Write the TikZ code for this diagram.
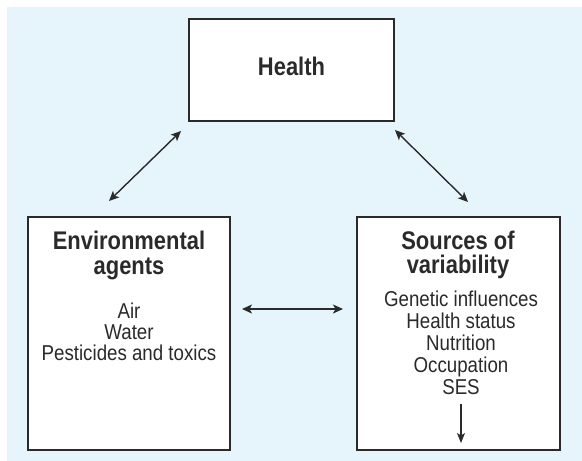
\documentclass[tikz,border=0pt]{standalone}
\usepackage{fontspec}
\setmainfont{Liberation Sans}
\newfontfamily\headfont{Liberation Sans}[FakeStretch=0.86]
\newfontfamily\bodyfont{Liberation Sans}[FakeStretch=0.87]
\usetikzlibrary{arrows.meta}
\definecolor{bgblue}{HTML}{E6F5FC}
\definecolor{ink}{HTML}{2A2A2A}
\begin{document}
\begin{tikzpicture}[x=1pt,y=-1pt,
  boxstyle/.style={draw=ink,line width=1.5pt,fill=white},
  headtext/.style={anchor=base,inner sep=0pt,text=ink,font=\headfont\bfseries\fontsize{25.5}{28}\selectfont},
  bodytext/.style={anchor=base,inner sep=0pt,text=ink,font=\bodyfont\fontsize{21.5}{24}\selectfont},
  link/.style={draw=ink,line width=1.4pt,{Stealth[length=10pt,width=9pt,inset=2.5pt]}-{Stealth[length=10pt,width=9pt,inset=2.5pt]}},
  onelink/.style={draw=ink,line width=1.4pt,-{Stealth[length=10pt,width=8pt,inset=2.5pt]}}]
\useasboundingbox (0,0) rectangle (582,461);
\fill[bgblue] (7,7) rectangle (582,461);
% boxes
\draw[boxstyle] (189,19) rectangle (394,121);
\draw[boxstyle] (28,217) rectangle (230,450);
\draw[boxstyle] (357,217) rectangle (560,450);
\node[headtext] (health) at (291.5,75) {Health};
% left box text
\node[headtext] (env1) at (129,249) {Environmental};
\node[headtext] (env2) at (129,274) {agents};
\node[bodytext] (air) at (129,318) {Air};
\node[bodytext] (water) at (129,339) {Water};
\node[bodytext] (pest) at (129,360) {Pesticides and toxics};
% right box text
\node[headtext] (src1) at (458,249) {Sources of};
\node[headtext] (src2) at (458,273) {variability};
\node[bodytext] (gen) at (461,306) {Genetic influences};
\node[bodytext] (hst) at (461,328) {Health status};
\node[bodytext] (nut) at (461,350) {Nutrition};
\node[bodytext] (occ) at (461,372) {Occupation};
\node[bodytext] (ses) at (461,394) {SES};
% connectors
\coordinate (a1) at (109,201);
\coordinate (a2) at (181,131);
\coordinate (b1) at (395,130);
\coordinate (b2) at (468,202);
\coordinate (c1) at (242,309);
\coordinate (c2) at (343,309);
\coordinate (d1) at (461,404);
\coordinate (d2) at (461,443);
\draw[link] (a1) -- (a2);
\draw[link] (b1) -- (b2);
\draw[link] (c1) -- (c2);
\draw[onelink] (d1) -- (d2);
\end{tikzpicture}
\end{document}
